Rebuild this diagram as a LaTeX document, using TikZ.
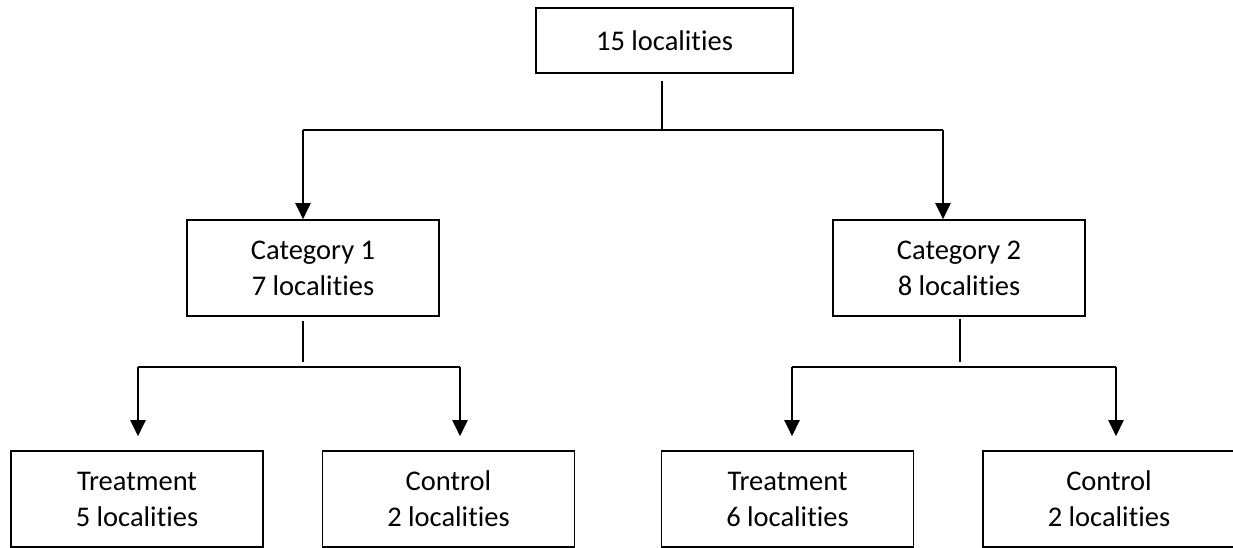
\documentclass[tikz,border=0pt]{standalone}
\usepackage{fontspec}
\setmainfont{Carlito}[Ligatures=NoCommon]
\usetikzlibrary{arrows.meta}

\begin{document}
\begin{tikzpicture}[x=1pt, y=-1pt,
  box/.style={draw, line width=1.6pt, minimum width=252pt, minimum height=96pt,
    inner sep=0pt, align=center, font=\fontsize{28.5pt}{36pt}\selectfont},
  link/.style={line width=1.6pt},
  flow/.style={line width=2.2pt, -{Triangle[length=16pt, width=15pt]}}]
\useasboundingbox (0,0) rectangle (1233,548);
\node[box, minimum width=257pt, minimum height=65pt] (all) at (664.5,40.5) {15 localities};
\node[box] (cat1) at (313,268) {Category 1\\7 localities};
\node[box] (cat2) at (959,268) {Category 2\\8 localities};
\node[box] (treat1) at (137,499) {Treatment\\5 localities};
\node[box] (ctrl1) at (448.5,499) {Control\\2 localities};
\node[box] (treat2) at (787.5,499) {Treatment\\6 localities};
\node[box] (ctrl2) at (1109,499) {Control\\2 localities};
\coordinate (allfork) at (662,130);
\coordinate (cat1in) at (303,130);
\coordinate (cat2in) at (943,130);
\coordinate (cat1fork) at (303,367);
\coordinate (cat2fork) at (960,367);
\coordinate (treat1in) at (138,367);
\coordinate (ctrl1in) at (460,367);
\coordinate (treat2in) at (792,367);
\coordinate (ctrl2in) at (1116,367);
\draw[link, shorten <=7pt] (all.south -| allfork) -- (allfork);
\draw[link] (cat1in) -- (cat2in);
\draw[flow] (cat1in) -- (cat1in |- cat1.north);
\draw[flow] (cat2in) -- (cat2in |- cat2.north);
\draw[link, shorten <=4pt, shorten >=5pt] (cat1.south -| cat1fork) -- (cat1fork);
\draw[link, shorten <=2pt, shorten >=5pt] (cat2.south -| cat2fork) -- (cat2fork);
\draw[link] (treat1in) -- (ctrl1in);
\draw[link] (treat2in) -- (ctrl2in);
\draw[flow, shorten >=14pt] (treat1in) -- (treat1in |- treat1.north);
\draw[flow, shorten >=14pt] (ctrl1in) -- (ctrl1in |- ctrl1.north);
\draw[flow, shorten >=14pt] (treat2in) -- (treat2in |- treat2.north);
\draw[flow, shorten >=14pt] (ctrl2in) -- (ctrl2in |- ctrl2.north);
\end{tikzpicture}
\end{document}
